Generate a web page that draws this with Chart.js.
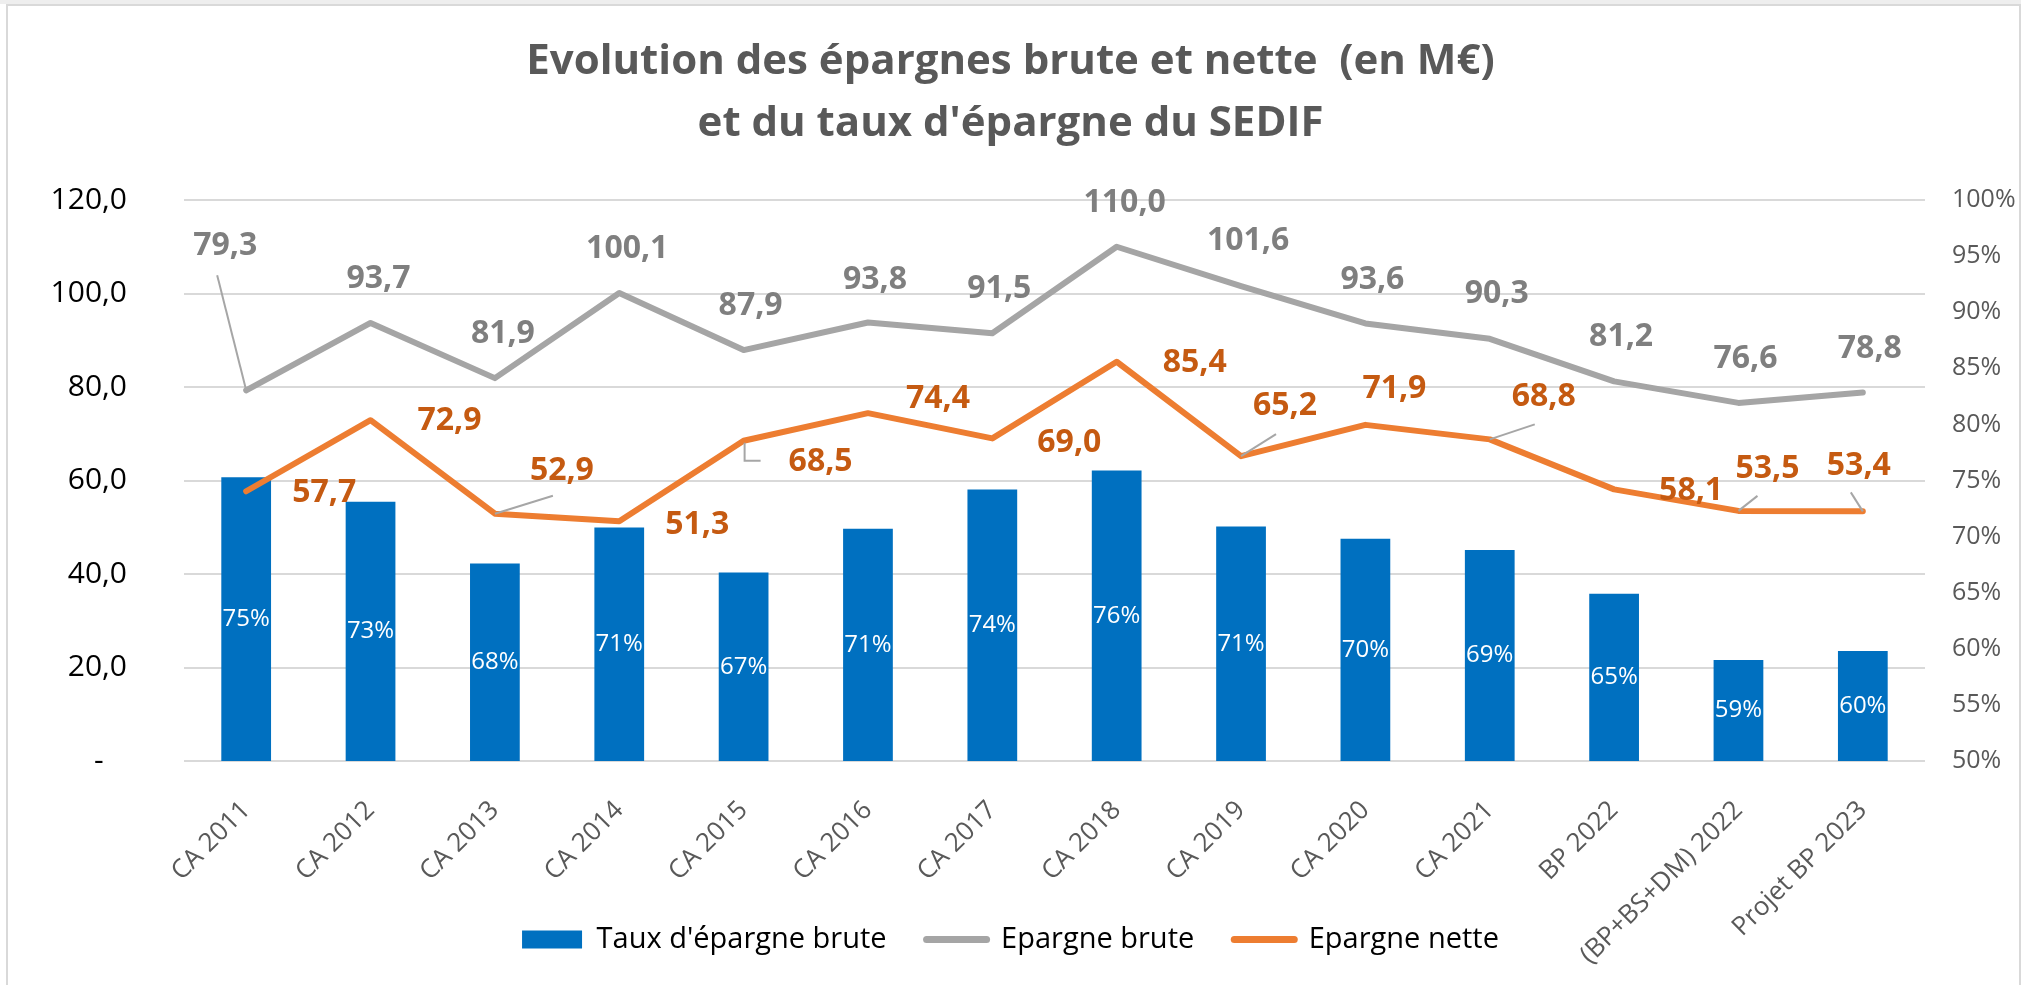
<!DOCTYPE html>
<html><head><meta charset="utf-8">
<script src="https://cdn.jsdelivr.net/npm/chart.js@4.4.0/dist/chart.umd.min.js"></script>
<style>
html,body{margin:0;padding:0;background:#fff;width:2021px;height:985px;overflow:hidden;}
#band{position:absolute;left:0;top:0;width:2021px;height:4px;background:#eeeeee;}
#frame{position:absolute;left:6px;top:4px;width:2011px;height:990px;border:2px solid #d9d9d9;border-bottom:none;pointer-events:none;}
canvas{position:absolute;left:0;top:0;}
</style></head><body>
<div id="band"></div>
<canvas id="c" width="2021" height="985"></canvas>
<div id="frame"></div>
<script>
// ---- data ----
const categories = ['CA 2011','CA 2012','CA 2013','CA 2014','CA 2015','CA 2016','CA 2017','CA 2018','CA 2019','CA 2020','CA 2021','BP 2022','(BP+BS+DM) 2022','Projet BP 2023'];
const tauxEpargneBrute = [0.753,0.731,0.676,0.708,0.668,0.707,0.742,0.759,0.709,0.698,0.688,0.649,0.590,0.598];
const epargneBrute = [79.3,93.7,81.9,100.1,87.9,93.8,91.5,110.0,101.6,93.6,90.3,81.2,76.6,78.8];
const epargneNette = [57.7,72.9,52.9,51.3,68.5,74.4,69.0,85.4,65.2,71.9,68.8,58.1,53.5,53.4];
const leftTicks = [0,20,40,60,80,100,120];
const rightTicks = [0.50,0.55,0.60,0.65,0.70,0.75,0.80,0.85,0.90,0.95,1.00];
const seriesNames = ["Taux d'épargne brute","Epargne brute","Epargne nette"];
const titleLines = ["Evolution des épargnes brute et nette  (en M€)","et du taux d'épargne du SEDIF"];

// ---- label placement (style) ----
const greyLabelOffsets = [[-21,-144],[8,-44],[8,-44],[8,-44],[7,-44],[7,-43],[7,-44],[8,-44],[7,-45],[7,-44],[7,-45],[7,-44],[7,-44],[7,-44]];
const greyLeaders = {0:[[-29,-115],[0,0]]};
const orangeLabelOffsets = [[78,2],[79,1],[67,-43],[78,4],[77,21],[70,-14],[77,4],[78,1],[44,-50],[29,-36],[54,-42],[77,2],[29,-42],[-4,-45]];
const orangeLeaders = {2:[[58,-18],[0,0]],4:[[1,2],[1,20],[17,20]],8:[[35,-22],[0,0]],10:[[45,-15],[0,0]],12:[[19,-15],[0,0]],13:[[-12,-19],[0,0]]};

const FONT = "'Open Sans', 'Liberation Sans', sans-serif";
Chart.defaults.font.family = FONT;
const BAR = '#0070C0', GREY = '#A5A5A5', ORANGE = '#ED7D31';
const fmt = v => v.toFixed(1).replace('.', ',');

const labelPlugin = {
  id: 'labels',
  afterLayout(chart) {
    // let the rotated category labels extend down without being clipped
    const sx = chart.scales.x;
    sx.bottom = chart.height;
    sx.height = sx.bottom - sx.top;
  },
  afterDatasetsDraw(chart) {
    const ctx = chart.ctx;
    ctx.save();
    // bar labels
    const mb = chart.getDatasetMeta(0);
    const sy1 = chart.scales.y1;
    const basePx = sy1.getPixelForValue(sy1.min);
    ctx.font = "24px " + FONT;
    ctx.fillStyle = '#ffffff';
    ctx.textAlign = 'center';
    ctx.textBaseline = 'middle';
    mb.data.forEach((el, i) => {
      const topPx = sy1.getPixelForValue(tauxEpargneBrute[i]);
      ctx.fillText(Math.round(tauxEpargneBrute[i] * 100) + '%', el.x, (topPx + basePx) / 2);
    });
    const drawLine = (metaIdx, values, offsets, leaders, color) => {
      const m = chart.getDatasetMeta(metaIdx);
      m.data.forEach((el, i) => {
        const ld = leaders[i];
        if (ld) {
          ctx.strokeStyle = '#A6A6A6';
          ctx.lineWidth = 2;
          ctx.beginPath();
          ld.forEach((p, k) => { if (k === 0) ctx.moveTo(el.x + p[0], el.y + p[1]); else ctx.lineTo(el.x + p[0], el.y + p[1]); });
          ctx.stroke();
        }
        ctx.font = "bold 32px " + FONT;
        ctx.fillStyle = color;
        ctx.textAlign = 'center';
        ctx.textBaseline = 'middle';
        ctx.fillText(fmt(values[i]), el.x + offsets[i][0], el.y + offsets[i][1]);
      });
    };
    drawLine(1, epargneBrute, greyLabelOffsets, greyLeaders, '#7F7F7F');
    drawLine(2, epargneNette, orangeLabelOffsets, orangeLeaders, '#C55A11');
    ctx.restore();
  }
};

new Chart(document.getElementById('c'), {
  data: {
    labels: categories,
    datasets: [
      { type: 'bar', label: seriesNames[0], data: tauxEpargneBrute, yAxisID: 'y1', backgroundColor: BAR, barPercentage: 0.4, categoryPercentage: 1.0, order: 3 },
      { type: 'line', label: seriesNames[1], data: epargneBrute, yAxisID: 'y', borderColor: GREY, borderWidth: 6, pointRadius: 0, tension: 0, borderCapStyle: 'round', borderJoinStyle: 'round', order: 2 },
      { type: 'line', label: seriesNames[2], data: epargneNette, yAxisID: 'y', borderColor: ORANGE, borderWidth: 6, pointRadius: 0, tension: 0, borderCapStyle: 'round', borderJoinStyle: 'round', order: 1 }
    ]
  },
  options: {
    responsive: false,
    animation: false,
    devicePixelRatio: 1,
    layout: { padding: { left: 0, right: 0, top: 0, bottom: 21 } },
    scales: {
      x: {
        grid: { display: false },
        border: { display: false },
        ticks: { color: '#595959', font: { size: 26 }, minRotation: 45, maxRotation: 45, autoSkip: false, padding: 26 },
        afterFit: s => { s.height = 124; }
      },
      y: {
        position: 'left', min: 0, max: 120,
        afterBuildTicks: s => { s.ticks = leftTicks.map(v => ({ value: v })); },
        grid: { color: '#D9D9D9', lineWidth: 2, drawTicks: false },
        border: { display: false },
        ticks: { color: '#000000', font: { size: 30 }, padding: 57, callback: v => v === 0 ? '-   ' : fmt(v) },
        afterFit: s => { s.width = 184; }
      },
      y1: {
        position: 'right', min: 0.5, max: 1.0,
        afterBuildTicks: s => { s.ticks = rightTicks.map(v => ({ value: v })); },
        grid: { display: false, drawTicks: false },
        border: { display: false },
        ticks: { color: '#595959', font: { size: 25 }, padding: 27, callback: v => Math.round(v * 100) + '%' },
        afterFit: s => { s.width = 96; }
      }
    },
    plugins: {
      tooltip: { enabled: false },
      title: {
        display: true, text: titleLines, color: '#595959',
        font: { size: 42, weight: 'bold', lineHeight: 62 / 42 },
        padding: { top: 31, bottom: 45 }
      },
      legend: {
        position: 'bottom',
        labels: {
          usePointStyle: true, pointStyleWidth: 60, boxHeight: 18, padding: 40,
          color: '#000000', font: { size: 29 },
          generateLabels: () => [
            { text: seriesNames[0], fillStyle: BAR, strokeStyle: BAR, lineWidth: 0, pointStyle: 'rect', datasetIndex: 0, hidden: false },
            { text: seriesNames[1], fillStyle: GREY, strokeStyle: GREY, lineWidth: 7, lineCap: 'round', pointStyle: 'line', datasetIndex: 1, hidden: false },
            { text: seriesNames[2], fillStyle: ORANGE, strokeStyle: ORANGE, lineWidth: 7, lineCap: 'round', pointStyle: 'line', datasetIndex: 2, hidden: false }
          ]
        }
      }
    }
  },
  plugins: [labelPlugin]
});
</script>
</body></html>
